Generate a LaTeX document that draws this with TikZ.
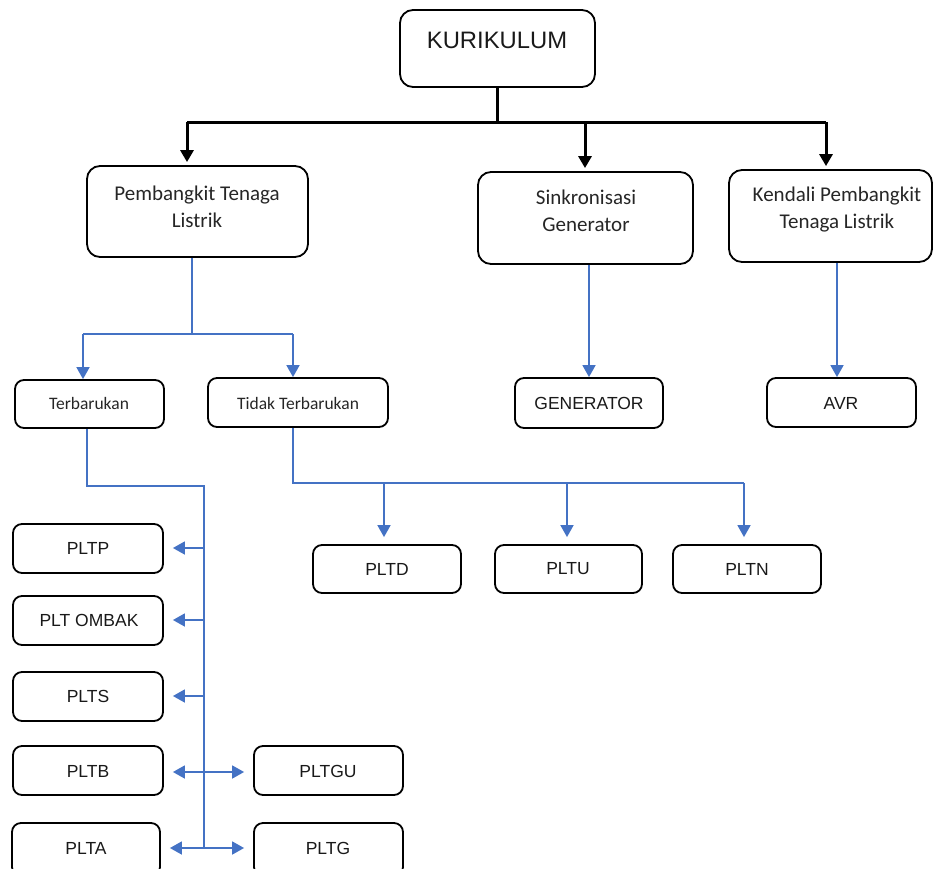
\documentclass[tikz,border=0pt]{standalone}
\usepackage{fontspec}
\setmainfont{Liberation Sans}
\newfontfamily\calfont{Carlito}
\usetikzlibrary{arrows.meta}
\definecolor{lblue}{HTML}{4472C4}
\tikzset{
  x=1pt,y=-1pt,
  box/.style={draw=black,line width=1.8pt,rounded corners=9pt,inner sep=0pt},
  bigbox/.style={box,rounded corners=13pt},
  blk/.style={line width=3pt,black},
  blkarrow/.style={blk,-{Triangle[width=13pt,length=12pt]},shorten >=3pt},
  bl/.style={line width=1.7pt,lblue},
  blarrow/.style={bl,-{Triangle[width=13pt,length=12pt]}},
  ctxt/.style={font=\calfont\fontsize{21}{27}\selectfont,align=center,text=black!85},
  stxt/.style={font=\calfont\fontsize{17.5}{20}\selectfont,text=black!85},
  atxt/.style={font=\fontsize{17.5}{20}\selectfont,text=black!90},
}
\newcommand{\bx}[6]{\node[#2,minimum width=#5-#3,minimum height=#6-#4] (#1) at ({(#3+#5)/2},{(#4+#6)/2}) {};}
\begin{document}
\begin{tikzpicture}
\useasboundingbox (0,0) rectangle (934,868);
% boxes
\bx{K}{bigbox}{400}{10}{595}{87}
\bx{P}{bigbox}{87}{166}{308}{257}
\bx{S}{bigbox}{478}{172}{693}{264}
\bx{KD}{bigbox}{729}{170}{932}{262}
\bx{T}{box}{15}{380}{164}{428}
\bx{TT}{box}{208}{378}{388}{427}
\bx{G}{box}{515}{378}{663}{428}
\bx{A}{box}{767}{378}{916}{427}
\bx{D}{box}{313}{545}{461}{593}
\bx{U}{box}{495}{545}{642}{593}
\bx{N}{box}{673}{545}{821}{593}
\bx{PP}{box}{13}{524}{163}{573}
\bx{OM}{box}{13}{596}{163}{645}
\bx{PS}{box}{13}{672}{163}{721}
\bx{PB}{box}{13}{746}{163}{795}
\bx{PA}{box}{12}{823}{160}{876}
\bx{GU}{box}{254}{746}{403}{795}
\bx{PG}{box}{254}{823}{403}{876}
% texts
\node[font=\fontsize{23.8}{26}\selectfont,text=black!90] (tK) at (497,40) {KURIKULUM};
\node[ctxt] (tP) at (197,207) {Pembangkit Tenaga\\Listrik};
\node[ctxt] (tS) at (586,211) {Sinkronisasi\\Generator};
\node[ctxt] (tKD) at (837,210) {Kendali Pembangkit\\Tenaga Listrik};
\node[stxt] (tT) at (89,403) {Terbarukan};
\node[stxt] (tTT) at (298,403) {Tidak Terbarukan};
\node[atxt] (tG) at (589,403) {GENERATOR};
\node[atxt] (tA) at (841,403) {AVR};
\node[atxt] (tD) at (387,569) {PLTD};
\node[atxt] (tU) at (568,569) {PLTU};
\node[atxt] (tN) at (747,569) {PLTN};
\node[atxt] (tPP) at (88,548) {PLTP};
\node[atxt] (tOM) at (89,620) {PLT OMBAK};
\node[atxt] (tPS) at (88,696) {PLTS};
\node[atxt] (tPB) at (88,771) {PLTB};
\node[atxt] (tPA) at (86,848) {PLTA};
\node[atxt] (tGU) at (328,771) {PLTGU};
\node[atxt] (tPG) at (328,848) {PLTG};
% black connectors
\coordinate (kj) at (497,122);
\coordinate (kl) at (187,122);
\coordinate (kr) at (826,122);
\coordinate (km) at (585,122);
\draw[blk] (K.south -| kj) -- (kj);
\draw[blk] (kl) -- (kr);
\draw[blkarrow] (kl) -- (kl |- P.north);
\draw[blkarrow] (km) -- (km |- S.north);
\draw[blkarrow] (kr) -- (kr |- KD.north);
% blue: Pembangkit
\coordinate (pj) at (192,334);
\coordinate (pl) at (83,334);
\coordinate (pr) at (293,334);
\draw[bl] (P.south -| pj) -- (pj);
\draw[bl] (pl) -- (pr);
\draw[blarrow] (pl) -- (pl |- T.north);
\draw[blarrow] (pr) -- (pr |- TT.north);
% sinkronisasi, kendali
\coordinate (sx) at (589,0);
\coordinate (kx) at (837,0);
\draw[blarrow] (S.south -| sx) -- (G.north -| sx);
\draw[blarrow] (KD.south -| kx) -- (A.north -| kx);
% Terbarukan tree
\coordinate (t1) at (87,486);
\coordinate (t2) at (204,486);
\coordinate (t3) at (204,848);
\draw[bl] (T.south -| t1) -- (t1) -- (t2) -- (t3);
\foreach \n/\yy in {PP/548,OM/620,PS/696,PB/772,PA/848}{
  \coordinate (c\n) at (204,\yy);
  \draw[blarrow,shorten >=9pt] (c\n) -- (c\n -| \n.east);
}
\draw[blarrow,shorten >=9pt] (cPB) -- (cPB -| GU.west);
\draw[blarrow,shorten >=9pt] (cPA) -- (cPA -| PG.west);
% Tidak Terbarukan tree
\coordinate (u1) at (293,483);
\coordinate (u2) at (744,483);
\draw[bl] (TT.south -| u1) -- (u1) -- (u2);
\foreach \n/\xx in {D/384,U/567,N/744}{
  \coordinate (d\n) at (\xx,483);
  \draw[blarrow,shorten >=7pt] (d\n) -- (d\n |- \n.north);
}
\end{tikzpicture}
\end{document}
